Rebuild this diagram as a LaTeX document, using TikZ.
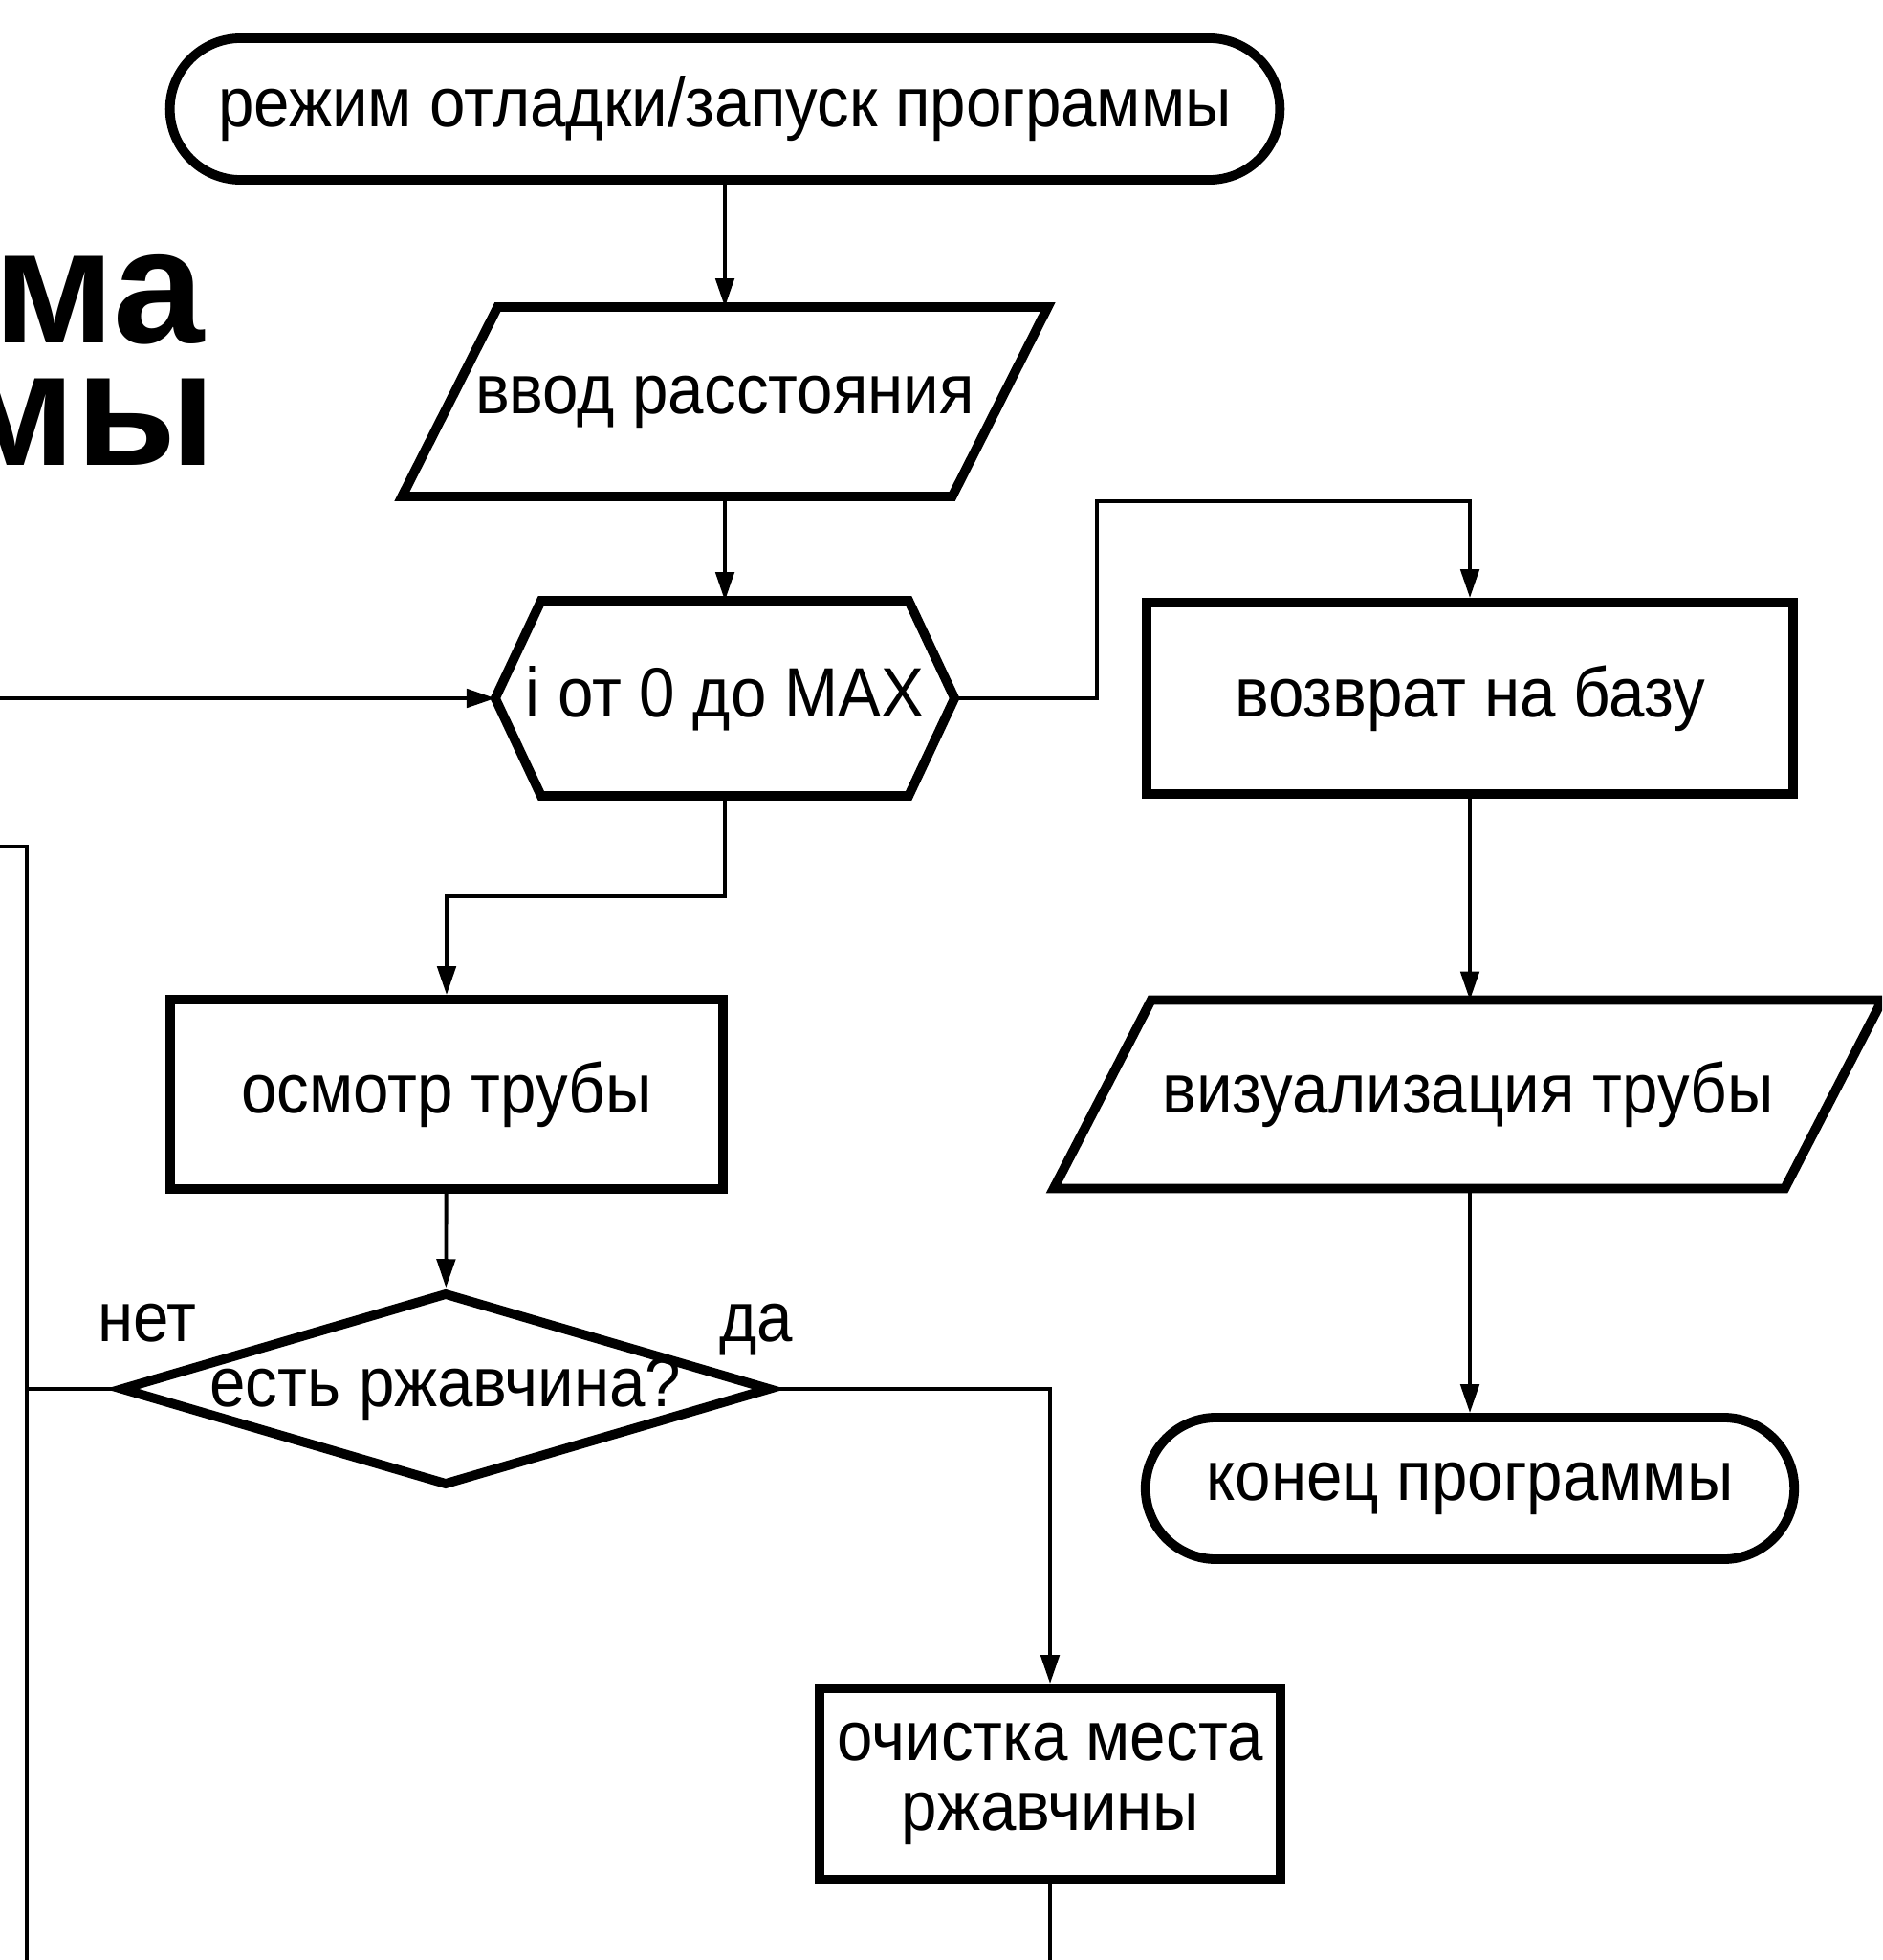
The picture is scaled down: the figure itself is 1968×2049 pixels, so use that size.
\documentclass[tikz,border=0pt]{standalone}
\usepackage{fontspec}
\setmainfont{Liberation Sans}
\newfontfamily\chartfont[FakeStretch=0.92]{Liberation Sans}
\usetikzlibrary{shapes.geometric,arrows.meta}

\tikzset{
  block/.style={draw, line width=2.8pt, inner sep=0pt, align=center,
    font=\chartfont\fontsize{20.8}{20.8}\selectfont},
  terminal/.style={block, rectangle, rounded corners=0.74cm},
  process/.style={block, rectangle},
  bodyonly/.style={block, draw=none, rectangle, outer sep=0pt},
  outline/.style={line width=2.8pt, line join=miter},
  decision/.style={block, diamond, aspect=3.36, text height=0.36cm, text depth=0pt},
  flow/.style={line width=1.1pt, -{Triangle[length=8.5pt,width=5.5pt]}},
  wire/.style={line width=1.1pt},
  answer/.style={font=\chartfont\fontsize{20.8}{20.8}\selectfont, inner sep=0pt, anchor=base}
}

\begin{document}
\begin{tikzpicture}[x=0.01cm, y=-0.01cm]
  \useasboundingbox (0,0) rectangle (1968,2049);
  \clip (0,0) rectangle (1968,2049);

  % title, cut at the left edge
  \node[font=\bfseries\fontsize{48.7}{48.7}\selectfont, anchor=base east, inner sep=0pt] (title1) at (214,359) {ма};
  \node[font=\bfseries\fontsize{48.7}{48.7}\selectfont, anchor=base east, inner sep=0pt] (title2) at (226,487) {мы};

  % main column
  \node[terminal, minimum width=11.6cm, minimum height=1.48cm] (start) at (758,114) {режим отладки/запуск программы};
  \node[bodyonly, minimum width=5.75cm, minimum height=1.98cm] (dist) at (758,420) {ввод расстояния};
  \draw[outline] ([xshift=-0.5cm]dist.south west) -- ([xshift=0.5cm]dist.north west)
    -- ([xshift=0.5cm]dist.north east) -- ([xshift=-0.5cm]dist.south east) -- cycle;
  \node[bodyonly, inner xsep=-0.2cm, minimum width=3.84cm, minimum height=2.04cm] (loop) at (758,730) {i от 0 до MAX};
  \coordinate (loopL) at ([xshift=-0.48cm]loop.west);
  \coordinate (loopR) at ([xshift=0.48cm]loop.east);
  \draw[outline] (loopL) -- (loop.north west) -- (loop.north east) -- (loopR)
    -- (loop.south east) -- (loop.south west) -- cycle;
  \node[process, minimum width=5.77cm, minimum height=1.98cm] (insp) at (467,1144) {осмотр трубы};
  \node[decision, minimum width=6.8cm, minimum height=2.02cm] (rust) at (466,1452) {есть ржавчина?};
  \node[process, minimum width=4.82cm, minimum height=2.0cm] (clean) at (1098,1865) {очистка места\\ржавчины};

  % right column
  \node[process, minimum width=6.75cm, minimum height=2.0cm] (base) at (1537,730) {возврат на базу};
  \node[bodyonly, minimum width=7.64cm, minimum height=1.97cm] (vis) at (1535,1144) {визуализация трубы};
  \draw[outline] ([xshift=-0.51cm]vis.south west) -- ([xshift=0.51cm]vis.north west)
    -- ([xshift=0.51cm]vis.north east) -- ([xshift=-0.51cm]vis.south east) -- cycle;
  \node[terminal, minimum width=6.78cm, minimum height=1.48cm] (finish) at (1537,1556) {конец программы};

  % labels
  \node[answer] (no) at (154,1402) {нет};
  \node[answer] (yes) at (791,1402) {да};

  % loose ends
  \coordinate (back) at (0,730);
  \coordinate (outl) at (0,885);
  \coordinate (bend) at (28,885);
  \coordinate (foot) at (28,2049);
  \coordinate (down) at (1098,2049);

  % connectors
  \draw[flow] (start) -- (dist);
  \draw[flow] (dist) -- (loop);
  \draw[flow] (back) -- (loopL);
  \draw[flow] (loopR) -- (1147,730) -- (1147,524) -| (base.north);
  \draw[flow] (base.south) -- (base.south |- vis.north);
  \draw[flow] (base.south |- vis.south) -- (finish.north);
  \draw[flow] (loop.south) -- (758,937) -| (insp.north);
  \draw[flow] (insp) -- (rust);
  \draw[flow] (rust.east) -| (clean.north);
  \draw[wire] (rust.west) -- (bend |- rust.west);
  \draw[wire] (outl) -- (bend) -- (foot);
  \draw[wire] (clean.south) -- (down);
\end{tikzpicture}
\end{document}
